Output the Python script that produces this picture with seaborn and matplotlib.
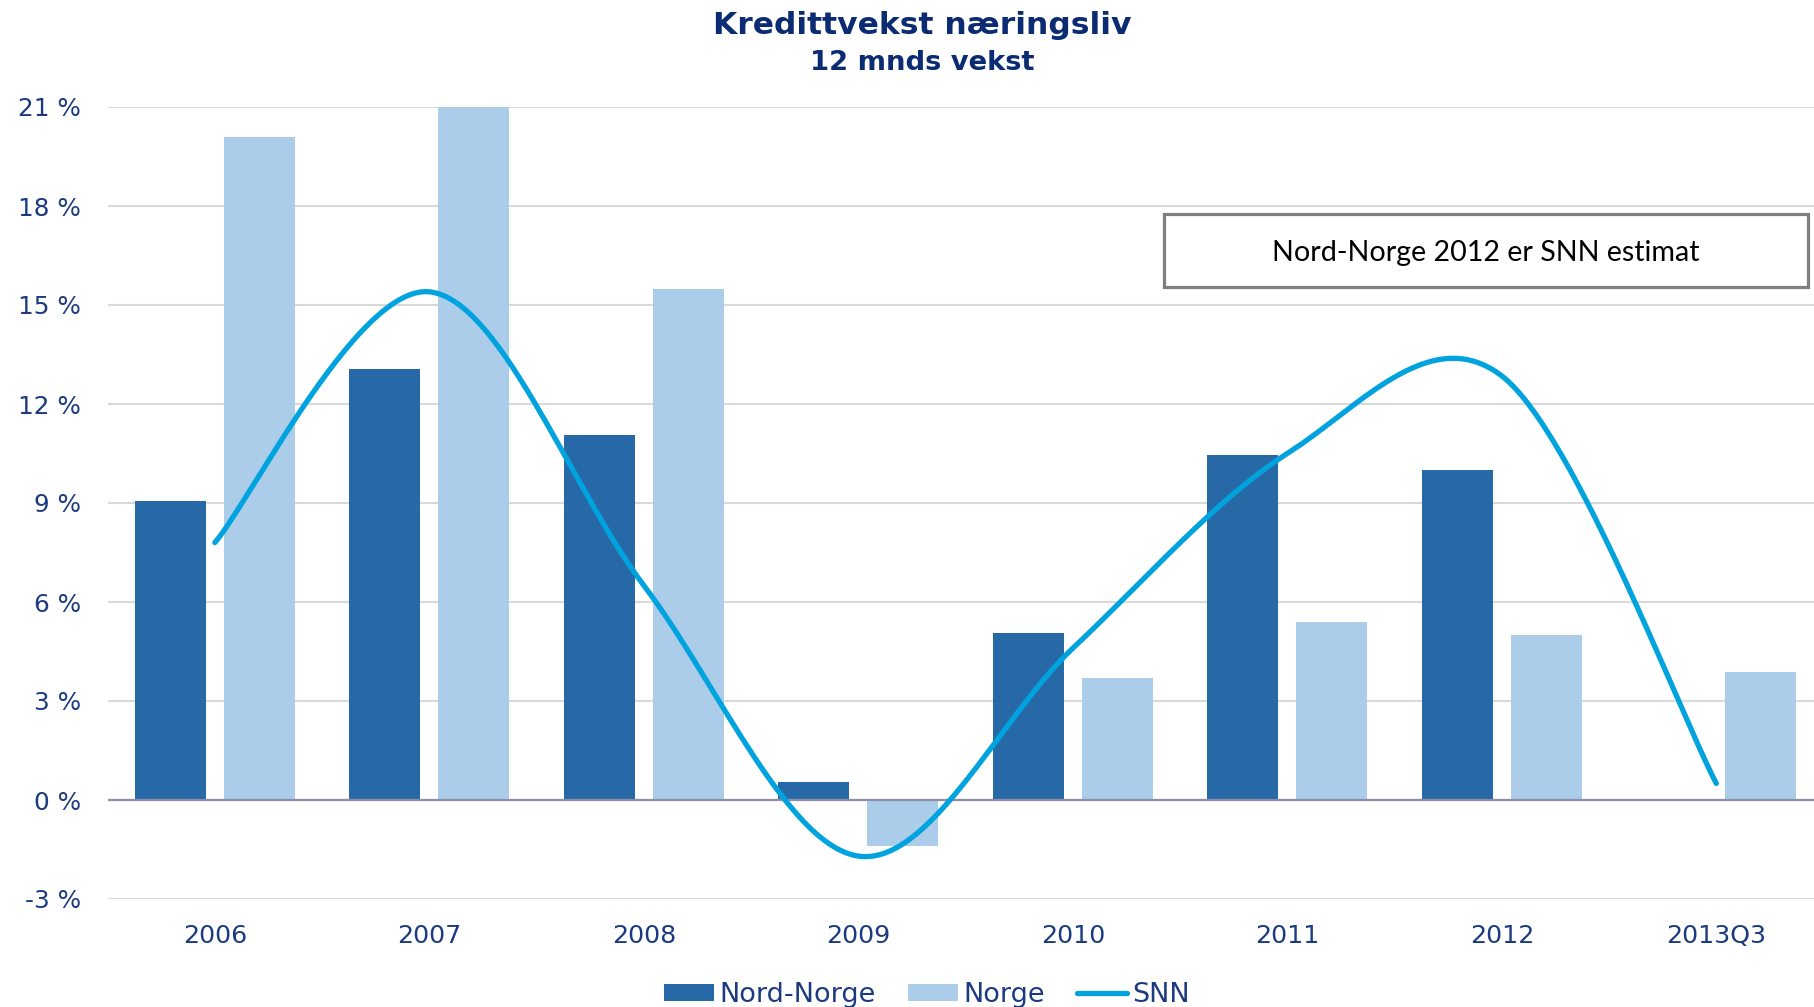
import numpy as np
import pandas as pd
import seaborn as sns
import matplotlib
matplotlib.use("Agg")
import matplotlib.pyplot as plt
from matplotlib.patches import Patch, Rectangle
from matplotlib.lines import Line2D

# ---------------- data ----------------
categories = ["2006", "2007", "2008", "2009", "2010", "2011", "2012", "2013Q3"]
nord_norge = [9.05, 13.05, 11.05, 0.55, 5.05, 10.45, 10.0, np.nan]
norge = [20.1, 21.0, 15.5, -1.4, 3.7, 5.4, 5.0, 3.87]
snn = [7.8, 15.4, 6.5, -1.7, 4.6, 10.5, 12.85, 0.5]
ytick_values = [-3, 0, 3, 6, 9, 12, 15, 18, 21]
ytick_labels = [f"{v} %" for v in ytick_values]
series_names = ["Nord-Norge", "Norge", "SNN"]
title = "Kredittvekst næringsliv"
subtitle = "12 mnds vekst"
note = "Nord-Norge 2012 er SNN estimat"

# ---------------- style ----------------
c_dark = "#2769A6"
c_light = "#ABCDEA"
c_line = "#00A3DE"
c_text = "#1B3A80"
c_title = "#0B2B72"

sns.set_theme(style="white")
plt.rcParams["font.family"] = ["DejaVu Sans"]

W, H = 1814, 1007
fig = plt.figure(figsize=(W / 100, H / 100), dpi=100)
ax_left, ax_right = 107.6, 107.6 + 8 * 214.5
ax_top, ax_bot = 107.0, 899.0
ax = fig.add_axes([ax_left / W, 1 - ax_bot / H, (ax_right - ax_left) / W, (ax_bot - ax_top) / H])

rows = []
for cat, a, b in zip(categories, nord_norge, norge):
    if not np.isnan(a):
        rows.append((cat, series_names[0], a))
    rows.append((cat, series_names[1], b))
df = pd.DataFrame(rows, columns=["Kategori", "Serie", "Verdi"])

sns.barplot(data=df, x="Kategori", y="Verdi", hue="Serie", order=categories,
            hue_order=series_names[:2],
            palette={series_names[0]: c_dark, series_names[1]: c_light},
            width=0.83, gap=0.205, saturation=1, errorbar=None, linewidth=0,
            legend=False, ax=ax, zorder=2)


def smooth(xs, ys, n=60):
    P = np.column_stack([xs, ys]).astype(float)
    N = len(P)
    out = []
    t = np.linspace(0, 1, n)[:, None]
    for i in range(N - 1):
        p0 = P[max(i - 1, 0)]
        p1 = P[i]
        p2 = P[i + 1]
        p3 = P[min(i + 2, N - 1)]
        c1 = p1 + (p2 - p0) / 6
        c2 = p2 - (p3 - p1) / 6
        seg = (1 - t) ** 3 * p1 + 3 * (1 - t) ** 2 * t * c1 + 3 * (1 - t) * t ** 2 * c2 + t ** 3 * p2
        out.append(seg if i == 0 else seg[1:])
    return np.vstack(out)


curve = smooth(np.arange(len(categories)), snn)
ax.plot(curve[:, 0], curve[:, 1], color=c_line, lw=3.8, solid_capstyle="round", zorder=4)

ax.set_xlim(-0.5, len(categories) - 0.5)
ax.set_ylim(-3, 21)
ax.set_yticks(ytick_values)
ax.set_yticklabels(ytick_labels)
ax.set_xlabel("")
ax.set_ylabel("")
ax.yaxis.grid(True, color="#D9D9D9", lw=1.5)
ax.xaxis.grid(False)
ax.set_axisbelow(True)
ax.axhline(0, color="#8E8EAA", lw=1.6, zorder=3)
for s in ax.spines.values():
    s.set_visible(False)
ax.tick_params(axis="y", length=0, labelsize=17.8, labelcolor=c_text, pad=19)
ax.tick_params(axis="x", length=0, labelsize=18.2, labelcolor=c_text, pad=18)

# titles
fig.text(922 / W, 1 - 25.5 / H, title, ha="center", va="center", fontsize=22.6,
         fontweight="bold", color=c_title)
fig.text(922 / W, 1 - 62.5 / H, subtitle, ha="center", va="center", fontsize=19.7,
         fontweight="bold", color=c_title)

# note box
bx0, by0, bx1, by1 = 1164, 214, 1808, 287
fig.add_artist(Rectangle((bx0 / W, 1 - by1 / H), (bx1 - bx0) / W, (by1 - by0) / H,
                         transform=fig.transFigure, facecolor="white",
                         edgecolor="#7F7F7F", lw=2.3, zorder=5))
fig.text((bx0 + bx1) / 2 / W, 1 - 253.5 / H, note, ha="center", va="center",
         fontsize=20.6, family=["Lato", "DejaVu Sans"], color="black", zorder=6)

# legend
handles = [Patch(facecolor=c_dark, edgecolor="none"),
           Patch(facecolor=c_light, edgecolor="none"),
           Line2D([0], [0], color=c_line, lw=3.8, solid_capstyle="round")]
leg = fig.legend(handles, series_names, loc="center", bbox_to_anchor=(0.511, 0.0118),
                 ncol=3, frameon=False, fontsize=19.5, handlelength=1.85,
                 handleheight=0.63, handletextpad=0.19, columnspacing=1.18,
                 borderpad=0, borderaxespad=0)
for t in leg.get_texts():
    t.set_color(c_text)

fig.savefig("out.png", dpi=100)
